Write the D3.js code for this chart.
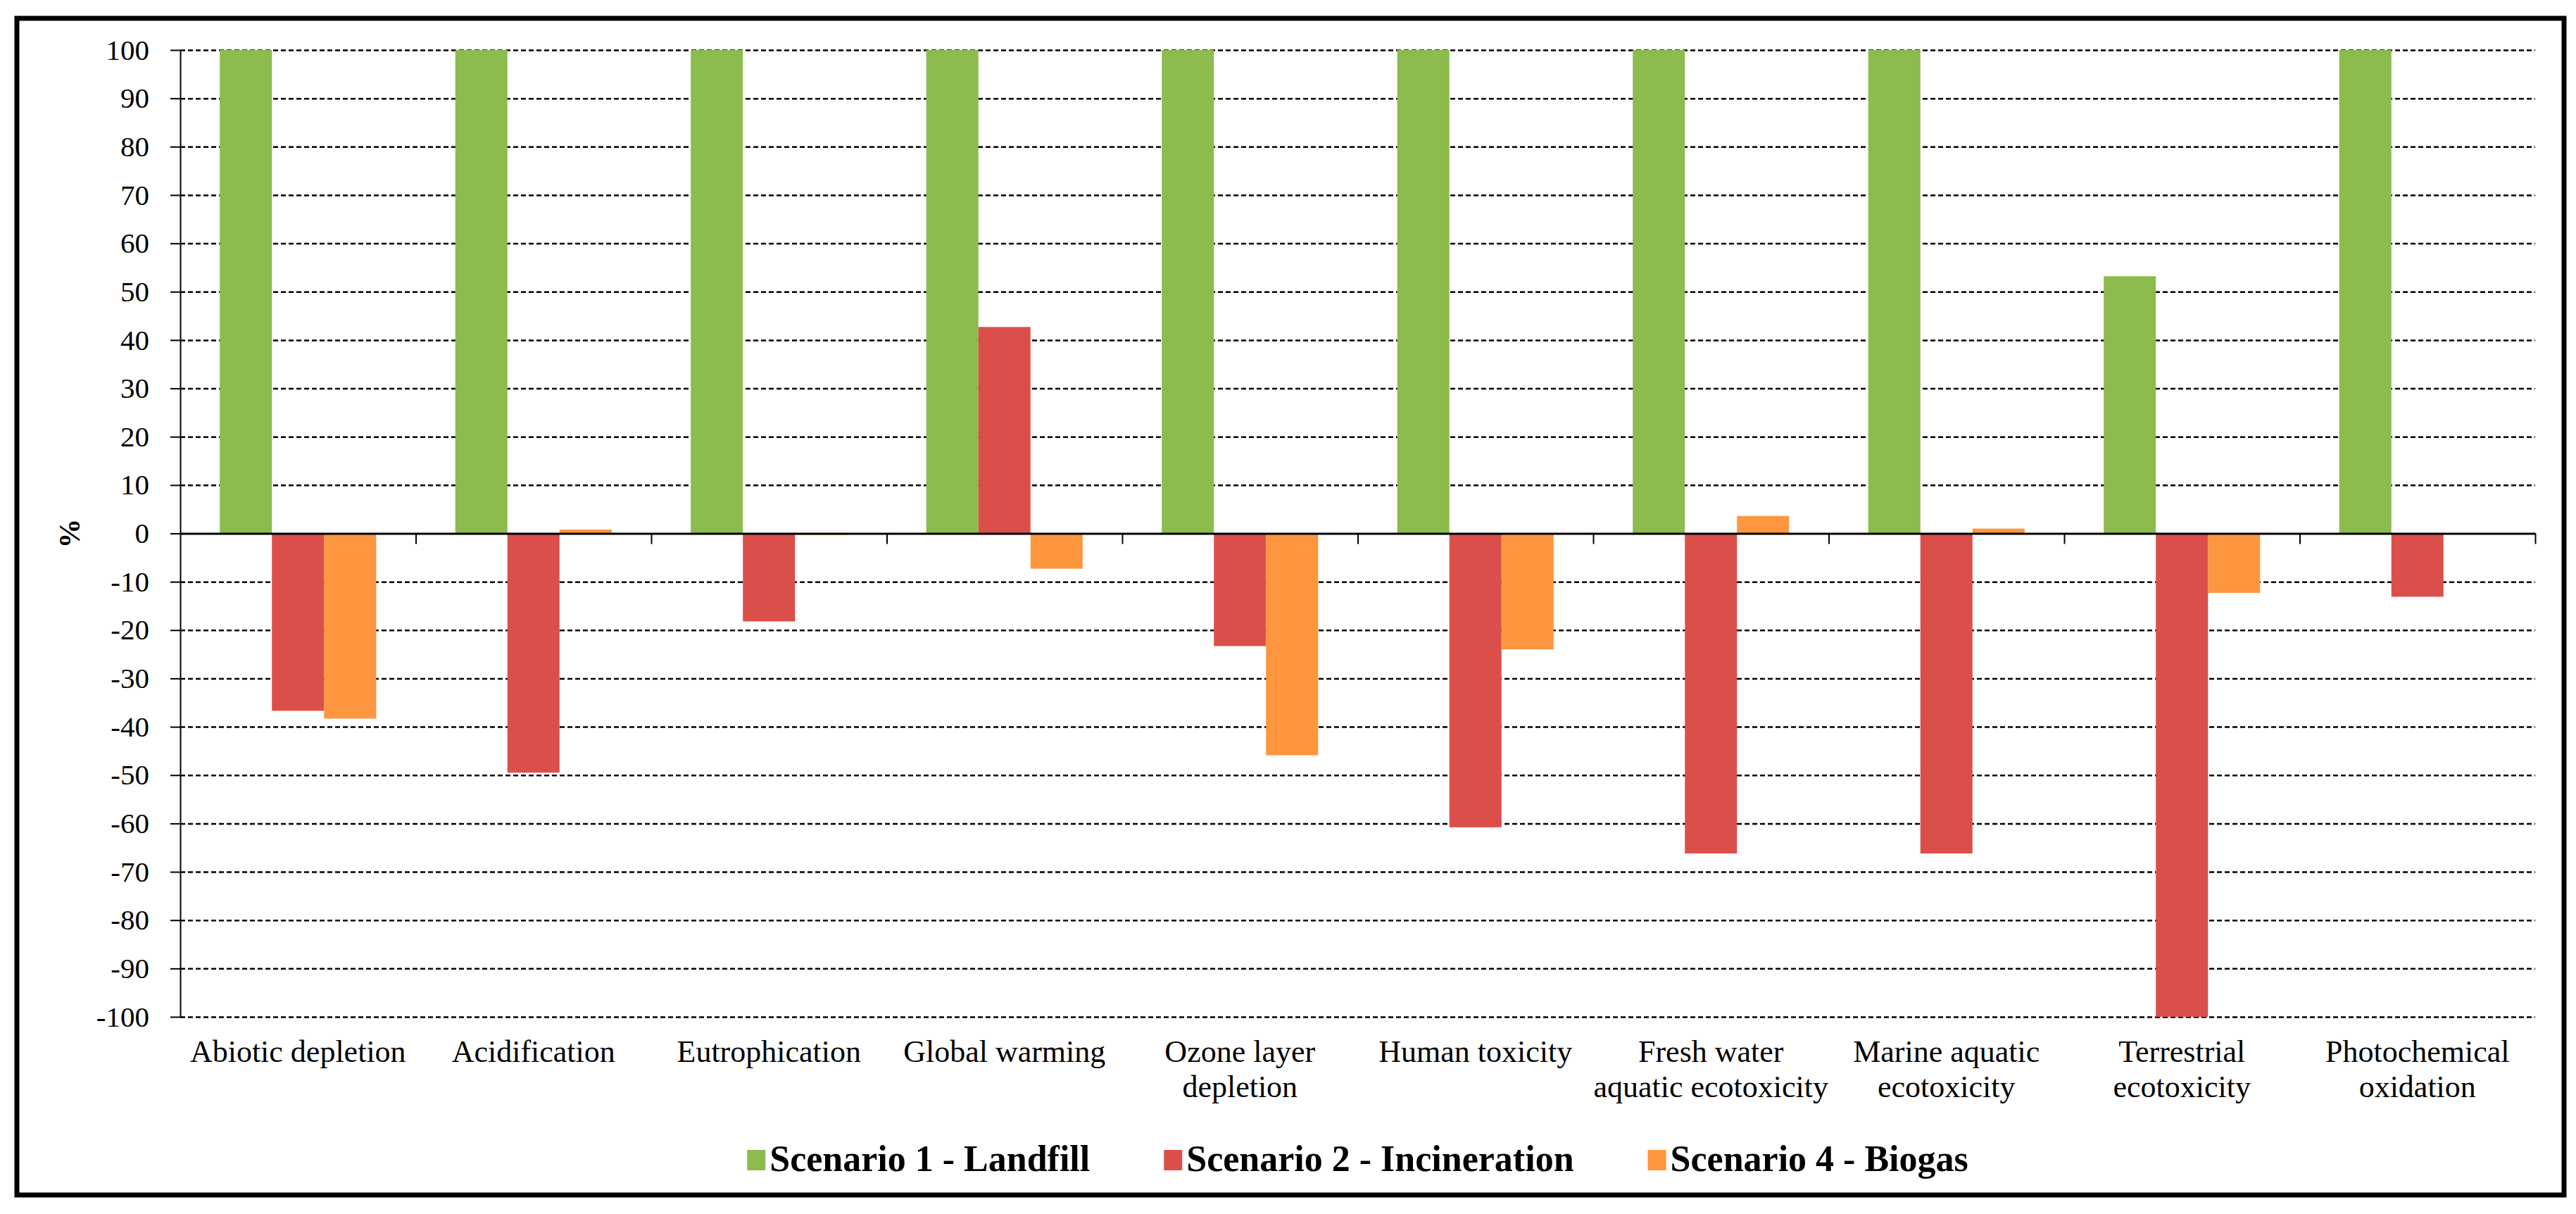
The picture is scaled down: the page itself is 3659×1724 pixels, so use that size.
<!DOCTYPE html>
<html>
<head>
<meta charset="utf-8">
<script src="https://cdnjs.cloudflare.com/ajax/libs/d3/7.8.5/d3.min.js"></script>
<style>
    body { margin: 0; background: #fff; }
    text { font-family: "Liberation Serif", "Times New Roman", serif; fill: #000; }
</style>
</head>
<body>
<div id="chart"></div>
<script>
// 类别（\n 表示换行）
const categories = [
    "Abiotic depletion", "Acidification", "Eutrophication", "Global warming",
    "Ozone layer\ndepletion", "Human toxicity", "Fresh water\naquatic ecotoxicity",
    "Marine aquatic\necotoxicity", "Terrestrial\necotoxicity", "Photochemical\noxidation"
];
const seriesNames = ["Scenario 1 - Landfill", "Scenario 2 - Incineration", "Scenario 4 - Biogas"];
const landfill = [100, 100, 100, 100, 100, 100, 100, 100, 53.2, 100];
const incineration = [-36.7, -49.5, -18.2, 42.7, -23.3, -60.8, -66.2, -66.2, -100, -13.1];
const biogas = [-38.3, 0.8, -0.3, -7.3, -45.9, -24, 3.6, 1.0, -12.3, -0.2];
const yTicks = [-100, -90, -80, -70, -60, -50, -40, -30, -20, -10, 0, 10, 20, 30, 40, 50, 60, 70, 80, 90, 100];
const colors = ["#8cbb4e", "#db4f4b", "#fd963f"];

const W = 3659, H = 1724;
const plotLeft = 256, plotRight = 3601, plotTop = 71, plotBottom = 1444;
const serif = '"Liberation Serif", "Times New Roman", serif';

const svg = d3.select("#chart").append("svg")
    .attr("width", W)
    .attr("height", H);

svg.append("rect").attr("width", W).attr("height", H).attr("fill", "#fff");

// 外框
svg.append("rect")
    .attr("x", 24).attr("y", 26)
    .attr("width", 3618).attr("height", 1671)
    .attr("fill", "none")
    .attr("stroke", "#000")
    .attr("stroke-width", 7);

const x = d3.scaleBand()
    .domain(categories)
    .range([plotLeft, plotRight])
    .paddingInner(0.336)
    .paddingOuter(0.168);

const xs = d3.scaleBand()
    .domain(seriesNames)
    .range([0, x.bandwidth()]);

const y = d3.scaleLinear()
    .domain([-100, 100])
    .range([plotBottom, plotTop]);

// 虚线网格
svg.append("g")
    .attr("transform", `translate(${plotLeft},0)`)
    .call(d3.axisLeft(y).tickValues(yTicks.filter(d => d !== 0)).tickSize(-(plotRight - plotLeft)).tickFormat(""))
    .call(g => g.select(".domain").remove())
    .selectAll("line")
    .attr("stroke", "#000")
    .attr("stroke-width", 2.5)
    .attr("stroke-dasharray", "7,4");

// 柱子
const series = [landfill, incineration, biogas];
series.forEach((vals, si) => {
    svg.append("g").selectAll("rect")
        .data(vals)
        .enter().append("rect")
        .attr("x", (d, i) => x(categories[i]) + xs(seriesNames[si]))
        .attr("y", d => y(Math.max(0, d)))
        .attr("width", xs.bandwidth())
        .attr("height", d => Math.abs(y(d) - y(0)))
        .attr("fill", colors[si]);
});

// 纵轴（用普通连字符表示负号）
const yAxis = svg.append("g")
    .attr("transform", `translate(${plotLeft},0)`)
    .call(d3.axisLeft(y).tickValues(yTicks).tickSize(14).tickSizeOuter(0).tickPadding(30)
        .tickFormat(d => String(d)));
yAxis.attr("font-family", serif);
yAxis.select(".domain").attr("stroke", "#000").attr("stroke-width", 2);
yAxis.selectAll(".tick line").attr("stroke", "#000").attr("stroke-width", 2);
yAxis.selectAll("text")
    .style("font-family", serif)
    .style("font-size", "41px");

// 零线和类别刻度
const xIdx = d3.scaleLinear().domain([0, categories.length]).range([plotLeft, plotRight]);
const xAxis = svg.append("g")
    .attr("transform", `translate(0,${y(0)})`)
    .call(d3.axisBottom(xIdx).ticks(categories.length).tickSize(15).tickSizeOuter(0).tickFormat(""));
xAxis.select(".domain").attr("stroke", "#000").attr("stroke-width", 3);
xAxis.selectAll(".tick line").attr("stroke", "#000").attr("stroke-width", 2);
xAxis.selectAll(".tick").filter(d => d === 0).remove();

// 类别标签
svg.append("g").selectAll("text")
    .data(categories)
    .enter().append("text")
    .attr("text-anchor", "middle")
    .style("font-size", "44px")
    .each(function(d) {
        const t = d3.select(this);
        d.split("\n").forEach((line, k) => {
            t.append("tspan")
                .attr("x", x(d) + x.bandwidth() / 2)
                .attr("y", 1508 + k * 50)
                .text(line);
        });
    });

// 纵轴标题
svg.append("text")
    .attr("transform", `translate(113,${y(0)}) rotate(-90)`)
    .attr("text-anchor", "middle")
    .style("font-size", "42px")
    .style("font-weight", "bold")
    .text("%");

// 图例
const legendGap = 105;
const legend = svg.append("g");
const items = legend.selectAll("g")
    .data(seriesNames)
    .enter().append("g");
items.append("rect")
    .attr("y", 1633)
    .attr("width", 26)
    .attr("height", 29)
    .attr("fill", (d, i) => colors[i]);
items.append("text")
    .attr("x", 32)
    .attr("y", 1663)
    .style("font-size", "52px")
    .style("font-weight", "bold")
    .text(d => d);

let pos = 0;
const offsets = [];
items.each(function() {
    offsets.push(pos);
    pos += 32 + this.querySelector("text").getComputedTextLength() + legendGap;
});
const total = pos - legendGap;
const startX = (plotLeft + plotRight) / 2 - total / 2;
items.attr("transform", (d, i) => `translate(${startX + offsets[i]},0)`);
</script>
</body>
</html>
